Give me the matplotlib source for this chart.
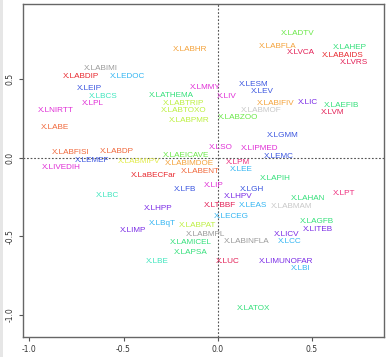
import matplotlib
matplotlib.use("Agg")
import matplotlib.pyplot as plt
from matplotlib.patches import Rectangle

labels = ["X.LABHR","X.LABIMI","X.LABDIP","X.LEDOC","X.LEIP","X.LBCS","X.LPL","X.LNIRTT",
          "X.LATHEMA","X.LABE","X.LADTV","X.LABFLA","X.LVCA","X.LAHEP","X.LABAIDS","X.LVRS",
          "X.LMMY","X.LESM","X.LEV","X.LIV","X.LABIFIV","X.LIC","X.LAEFIB","X.LVM","X.LABMOF",
          "X.LABZOO","X.LABTRIP","X.LABTOXO","X.LABPMR","X.LABFISI","X.LABDP","X.LEMEF",
          "X.LIVEDIH","X.LABMIPV","X.LaBECFar","X.LBC","X.LFB","X.LHPP","X.LBqT","X.LIMP",
          "X.LAEICAVE","X.LABIMDOE","X.LABENT","X.LSO","X.LIPMED","X.LEMC","X.LGMM","X.LPM",
          "X.LEE","X.LAPIH","X.LIP","X.LGH","X.LHPV","X.LPT","X.LAHAN","X.LTBBF","X.LEAS",
          "X.LABMAM","X.LECEG","X.LAGFB","X.LITEB","X.LICV","X.LABPAT","X.LABMPL","X.LAMICEL",
          "X.LABINFLA","X.LCC","X.LAPSA","X.LBE","X.LUC","X.LIMUNOFAR","X.LBI","X.LATOX"]

dim1 = [-0.147,-0.620,-0.724,-0.479,-0.681,-0.606,-0.665,-0.862,
        -0.248,-0.862,0.423,0.317,0.439,0.700,0.662,0.721,
        -0.068,0.191,0.237,0.049,0.309,0.477,0.655,0.609,0.231,
        0.109,-0.183,-0.181,-0.153,-0.783,-0.535,-0.667,
        -0.832,-0.415,-0.342,-0.588,-0.176,-0.319,-0.296,-0.448,
        -0.171,-0.149,-0.090,0.016,0.224,0.325,0.347,0.109,
        0.125,0.305,-0.019,0.180,0.107,0.671,0.480,0.012,0.185,
        0.390,0.074,0.525,0.533,0.366,-0.110,-0.063,-0.143,
        0.151,0.382,-0.145,-0.320,0.053,0.360,0.438,0.188]

dim2 = [0.687,0.572,0.521,0.521,0.440,0.389,0.347,0.303,
        0.400,0.196,0.795,0.712,0.669,0.706,0.653,0.608,
        0.449,0.468,0.425,0.389,0.349,0.351,0.334,0.290,0.303,
        0.258,0.347,0.304,0.236,0.032,0.043,-0.014,
        -0.061,-0.024,-0.111,-0.237,-0.201,-0.322,-0.417,-0.462,
        0.013,-0.035,-0.089,0.064,0.061,0.011,0.141,-0.027,
        -0.073,-0.131,-0.175,-0.199,-0.245,-0.226,-0.262,-0.303,-0.303,
        -0.313,-0.373,-0.403,-0.454,-0.487,-0.428,-0.487,-0.541,
        -0.534,-0.534,-0.602,-0.662,-0.662,-0.657,-0.704,-0.957]

groups = ["orange","gray","red","sky","blue","aqua","magenta","magenta",
          "spring","coral","green","orange","crimson","spring","red","crimson",
          "magenta","blue","blue","magenta","orange","violet","spring","crimson","lgray",
          "green","gyellow","gyellow","gyellow","coral","coral","blue",
          "magenta","yellow","red","aqua","blue","violet","sky","violet",
          "green","orange","coral","magenta","magenta","blue","blue","pink",
          "sky","spring","magenta","blue","violet","pink","spring","crimson","sky",
          "lgray","sky","spring","violet","violet","gyellow","gray","spring",
          "gray","sky","spring","aqua","crimson","violet","sky","spring"]

palette = {"orange":"#F4A23A","coral":"#F0673A","red":"#E8282E","crimson":"#E31E55",
           "pink":"#EE2F7E","magenta":"#E02FD6","blue":"#3A55E0","violet":"#7A2BE6",
           "sky":"#33B5F2","aqua":"#3FE6BE","spring":"#33E07A","green":"#6AE848",
           "gyellow":"#BDF040","yellow":"#E2EC4A","gray":"#9A9A9A","lgray":"#C8C8C8"}

W, H = 386, 357
fig = plt.figure(figsize=(W/100, H/100), dpi=100)
fig.patches.append(Rectangle((0, 0), 3/W, 1, transform=fig.transFigure,
                             facecolor="#E6E6E6", edgecolor="none", zorder=0))
ax = fig.add_axes([22.7/W, 1-337/H, (384-22.7)/W, (337-4.3)/H])
ax.set_xlim(-1.035, 0.882)
ax.set_ylim(-1.141, 0.978)

for lab, x, y, g in zip(labels, dim1, dim2, groups):
    ax.text(x, y, lab, color=palette[g], ha="center", va="center",
            fontsize=5.9, family="Liberation Sans")

ax.axhline(0, color="#555555", lw=0.8, ls=(0, (1.6, 1.6)), zorder=0)
ax.axvline(0, color="#555555", lw=0.8, ls=(0, (1.6, 1.6)), zorder=0)

ax.set_xticks([-1.0, -0.5, 0.0, 0.5])
ax.set_yticks([-1.0, -0.5, 0.0, 0.5])
ax.set_xticklabels(["-1.0", "-0.5", "0.0", "0.5"])
ax.set_yticklabels(["-1.0", "-0.5", "0.0", "0.5"], rotation=90, va="center")
ax.tick_params(labelsize=5.5, length=3, width=0.8, color="#555555",
               labelcolor="#333333", pad=3)
for s in ax.spines.values():
    s.set_color("#666666")
    s.set_linewidth(1.0)

fig.savefig("out.png", dpi=100)
